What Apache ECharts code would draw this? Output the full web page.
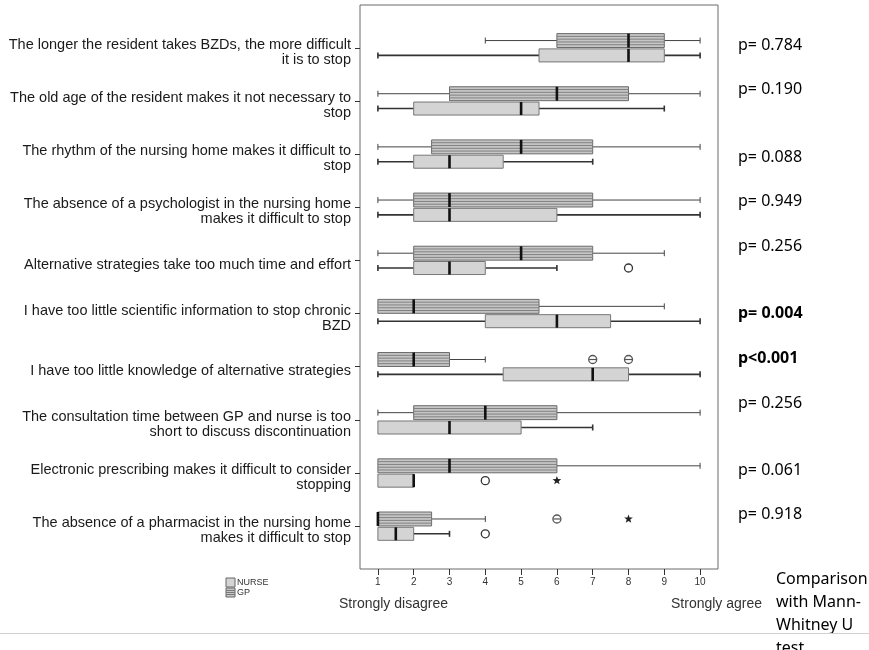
<!DOCTYPE html>
<html>
<head>
<meta charset="utf-8">
<script src="https://cdn.jsdelivr.net/npm/echarts@6/dist/echarts.min.js"></script>
<style>
  html, body { margin: 0; padding: 0; background: #fff; }
  #chart { width: 869px; height: 650px; }
</style>
</head>
<body>
<div id="chart"></div>
<script>
// statements (y categories, top to bottom)
const categories = [
  "The longer the resident takes BZDs, the more difficult\nit is to stop",
  "The old age of the resident makes it not necessary to\nstop",
  "The rhythm of the nursing home makes it difficult to\nstop",
  "The absence of a psychologist in the nursing home\nmakes it difficult to stop",
  "Alternative strategies take too much time and effort",
  "I have too little scientific information to stop chronic\nBZD",
  "I have too little knowledge of alternative strategies",
  "The consultation time between GP and nurse is too\nshort to discuss discontinuation",
  "Electronic prescribing makes it difficult to consider\nstopping",
  "The absence of a pharmacist in the nursing home\nmakes it difficult to stop"
];

// [min, q1, median, q3, max]
const gpStats = [
  [4, 6, 8, 9, 10],
  [1, 3, 6, 8, 10],
  [1, 2.5, 5, 7, 10],
  [1, 2, 3, 7, 10],
  [1, 2, 5, 7, 9],
  [1, 1, 2, 5.5, 9],
  [1, 1, 2, 3, 4],
  [1, 2, 4, 6, 10],
  [1, 1, 3, 6, 10],
  [1, 1, 1, 2.5, 4]
];
const nurseStats = [
  [1, 5.5, 8, 9, 10],
  [1, 2, 5, 5.5, 9],
  [1, 2, 3, 4.5, 7],
  [1, 2, 3, 6, 10],
  [1, 2, 3, 4, 6],
  [1, 4, 6, 7.5, 10],
  [1, 4.5, 7, 8, 10],
  [1, 1, 3, 5, 7],
  [1, 1, 2, 2, 2],
  [1, 1, 1.5, 2, 3]
];

// [category index, value, kind]  kind: "o" outlier, "oo" repeated outlier, "*" extreme
const gpOutliers = [[6, 7, "oo"], [6, 8, "oo"], [9, 6, "oo"], [9, 8, "*"]];
const nurseOutliers = [[4, 8, "o"], [8, 4, "o"], [8, 6, "*"], [9, 4, "o"]];

const pValues = ["p= 0.784", "p= 0.190", "p= 0.088", "p= 0.949", "p= 0.256",
                 "p= 0.004", "p<0.001", "p= 0.256", "p= 0.061", "p= 0.918"];
const xTicks = [1, 2, 3, 4, 5, 6, 7, 8, 9, 10];

// layout only
const pTextY = [45, 89, 157, 201, 246, 313, 358, 403, 470, 514];
const LABEL_SHIFT = 0.085; // labels sit slightly below their tick
const GROUP = {
  gp: { off: -0.136, h: 0.262, striped: true, whisker: 1, wColor: "#444" },
  nurse: { off: 0.143, h: 0.245, striped: false, whisker: 1.6, wColor: "#333" }
};

const chart = echarts.init(document.getElementById("chart"));

function boxRenderer(cfg) {
  return function (params, api) {
    const cat = api.value(0);
    const [mn, q1, md, q3, mx] = [1, 2, 3, 4, 5].map((i) => api.value(i));
    const band = api.size([0, 1])[1];
    const cy = api.coord([0, cat])[1] + cfg.off * band;
    const h = cfg.h * band;
    const top = cy - h / 2;
    const X = (v) => api.coord([v, cat])[0];
    const lineStyle = { stroke: cfg.wColor, lineWidth: cfg.whisker };
    const kids = [];
    if (mn < q1) {
      kids.push({ type: "line", shape: { x1: X(mn), y1: cy, x2: X(q1), y2: cy }, style: lineStyle });
      kids.push({ type: "line", shape: { x1: X(mn), y1: cy - 3, x2: X(mn), y2: cy + 3 }, style: lineStyle });
    }
    if (mx > q3) {
      kids.push({ type: "line", shape: { x1: X(q3), y1: cy, x2: X(mx), y2: cy }, style: lineStyle });
      kids.push({ type: "line", shape: { x1: X(mx), y1: cy - 3, x2: X(mx), y2: cy + 3 }, style: lineStyle });
    }
    kids.push({
      type: "rect",
      shape: { x: X(q1), y: top, width: X(q3) - X(q1), height: h },
      style: { fill: cfg.striped ? "#c6c6c6" : "#d4d4d4", stroke: cfg.striped ? "#6a6a6a" : "#777", lineWidth: 1 }
    });
    if (cfg.striped) {
      [0.2, 0.4, 0.6, 0.8].forEach((f) => {
        kids.push({
          type: "line",
          shape: { x1: X(q1), y1: top + f * h, x2: X(q3), y2: top + f * h },
          style: { stroke: "#808080", lineWidth: 1 }
        });
      });
    }
    kids.push({
      type: "line",
      shape: { x1: X(md), y1: top, x2: X(md), y2: top + h },
      style: { stroke: "#111", lineWidth: 2.6 }
    });
    return { type: "group", children: kids };
  };
}

function starPoints(cx, cy, R, r) {
  const pts = [];
  for (let i = 0; i < 10; i++) {
    const a = -Math.PI / 2 + (i * Math.PI) / 5;
    const rad = i % 2 === 0 ? R : r;
    pts.push([cx + rad * Math.cos(a), cy + rad * Math.sin(a)]);
  }
  return pts;
}

function outlierRenderer(cfg, list) {
  return function (params, api) {
    const cat = api.value(0);
    const v = api.value(1);
    const kind = list[params.dataIndex][2];
    const band = api.size([0, 1])[1];
    const p = api.coord([v, cat]);
    const cx = p[0];
    const cy = p[1] + cfg.off * band;
    if (kind === "*") {
      return {
        type: "polygon",
        shape: { points: starPoints(cx, cy, 4.6, 1.9) },
        style: { fill: "#222" }
      };
    }
    const kids = [{
      type: "circle",
      shape: { cx: cx, cy: cy, r: 4 },
      style: { fill: "#fff", stroke: kind === "oo" ? "#555" : "#333", lineWidth: 1.3 }
    }];
    if (kind === "oo") {
      kids.push({ type: "line", shape: { x1: cx - 3.5, y1: cy, x2: cx + 3.5, y2: cy }, style: { stroke: "#555", lineWidth: 1.2 } });
    }
    return { type: "group", children: kids };
  };
}

const toBoxData = (stats) => stats.map((s, i) => [i, ...s]);
const toOutData = (list) => list.map((o) => [o[0], o[1]]);

const graphics = [];
pValues.forEach((t, i) => {
  const num = parseFloat(t.replace(/[^0-9.]/g, ""));
  const bold = t.indexOf("<") >= 0 || num < 0.05;
  graphics.push({
    type: "text", x: 738, y: pTextY[i],
    style: {
      text: t, fill: "#000", verticalAlign: "middle",
      font: (bold ? "bold " : "") + "16px 'Noto Sans'"
    }
  });
});
// legend
graphics.push(
  { type: "rect", shape: { x: 226, y: 578, width: 9, height: 9 }, style: { fill: "#d4d4d4", stroke: "#666", lineWidth: 1 } },
  { type: "rect", shape: { x: 226, y: 588, width: 9, height: 9 }, style: { fill: "#c6c6c6", stroke: "#666", lineWidth: 1 } },
  { type: "line", shape: { x1: 226, y1: 590.5, x2: 235, y2: 590.5 }, style: { stroke: "#7a7a7a" } },
  { type: "line", shape: { x1: 226, y1: 592.5, x2: 235, y2: 592.5 }, style: { stroke: "#7a7a7a" } },
  { type: "line", shape: { x1: 226, y1: 594.5, x2: 235, y2: 594.5 }, style: { stroke: "#7a7a7a" } },
  { type: "text", x: 237, y: 583, style: { text: "NURSE", fill: "#333", verticalAlign: "middle", font: "9px 'Liberation Sans'" } },
  { type: "text", x: 237, y: 593, style: { text: "GP", fill: "#333", verticalAlign: "middle", font: "9px 'Liberation Sans'" } },
  { type: "text", x: 339, y: 604, style: { text: "Strongly disagree", fill: "#333", verticalAlign: "middle", font: "14px 'Liberation Sans'" } },
  { type: "text", x: 671, y: 604, style: { text: "Strongly agree", fill: "#333", verticalAlign: "middle", font: "14px 'Liberation Sans'" } },
  { type: "text", x: 776, y: 568, style: { text: "Comparison\nwith Mann-\nWhitney U\ntest", fill: "#000", lineHeight: 23, font: "16px 'Noto Sans'" } },
  { type: "line", shape: { x1: 0, y1: 633.5, x2: 869, y2: 633.5 }, style: { stroke: "#d0d0d0", lineWidth: 1 } }
);

const catIdx = categories.map((c, i) => i);

chart.setOption({
  animation: false,
  backgroundColor: "#fff",
  grid: { left: 360, right: 151, top: 5, bottom: 81, show: true, borderColor: "#6a6a6a", borderWidth: 1, backgroundColor: "#fff" },
  xAxis: {
    type: "value", min: 0.5, max: 10.5,
    axisLine: { show: false, onZero: false },
    splitLine: { show: false },
    axisTick: { show: true, length: 6, customValues: xTicks, lineStyle: { color: "#333" } },
    axisLabel: { customValues: xTicks, margin: 8, color: "#333", fontSize: 10, fontFamily: "Liberation Sans" }
  },
  yAxis: {
    type: "value", min: -0.805, max: 9.805, inverse: true,
    axisLine: { show: false, onZero: false },
    splitLine: { show: false },
    axisTick: { show: true, length: 5, customValues: catIdx, lineStyle: { color: "#333" } },
    axisLabel: {
      customValues: catIdx.map((i) => i + LABEL_SHIFT),
      formatter: (v) => categories[Math.round(v)],
      margin: 9, color: "#1a1a1a", fontSize: 14.5, fontFamily: "Liberation Sans",
      lineHeight: 15, align: "right"
    }
  },
  graphic: graphics,
  series: [
    { name: "GP", type: "custom", renderItem: boxRenderer(GROUP.gp), encode: { x: [1, 2, 3, 4, 5], y: 0 }, data: toBoxData(gpStats) },
    { name: "NURSE", type: "custom", renderItem: boxRenderer(GROUP.nurse), encode: { x: [1, 2, 3, 4, 5], y: 0 }, data: toBoxData(nurseStats) },
    { name: "GP outliers", type: "custom", renderItem: outlierRenderer(GROUP.gp, gpOutliers), encode: { x: 1, y: 0 }, data: toOutData(gpOutliers) },
    { name: "NURSE outliers", type: "custom", renderItem: outlierRenderer(GROUP.nurse, nurseOutliers), encode: { x: 1, y: 0 }, data: toOutData(nurseOutliers) }
  ]
});
</script>
</body>
</html>
